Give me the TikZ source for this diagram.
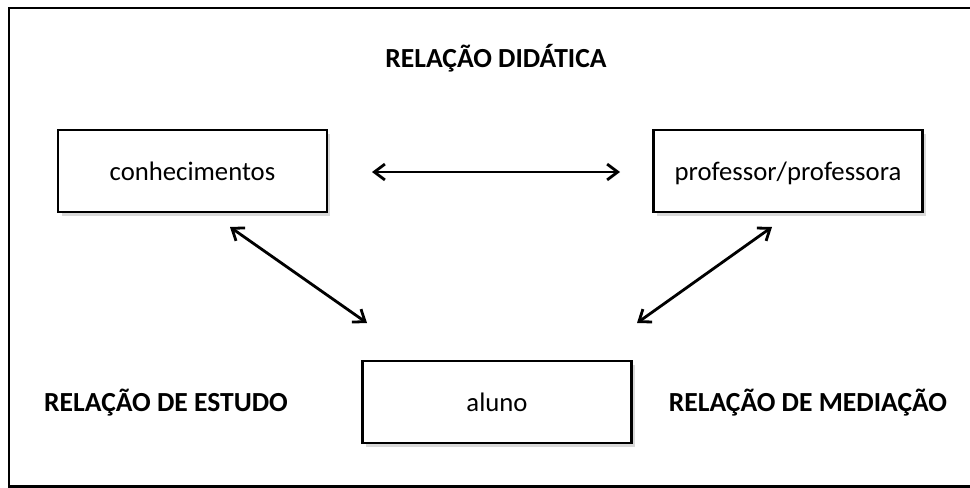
\documentclass[tikz,border=0pt]{standalone}
\usepackage{fontspec}
\setmainfont{Carlito}
\usepackage{tikz}
\usetikzlibrary{arrows.meta, shadows}

\begin{document}
\begin{tikzpicture}[x=0.02cm, y=-0.02cm,
    caixa/.style={draw=black, line width=1.6pt, fill=white, minimum width=5.38cm,
      minimum height=1.64cm, inner sep=0pt, text height=14pt, text depth=3pt,
      font=\fontsize{15.2}{18}\selectfont,
      drop shadow={shadow xshift=2pt, shadow yshift=-2pt, opacity=0.25, fill=black!60}},
    relacao/.style={font=\fontsize{15.7}{18}\selectfont\bfseries},
    seta/.style={{Straight Barb[length=6pt, width=9pt, line width=1.6pt]}-{Straight Barb[length=6pt, width=9pt, line width=1.6pt]}, line width=1.6pt}]
  \useasboundingbox (0,0) rectangle (970,487);

  % Frame (right side runs off the page)
  \draw[line width=1.7pt] (980,8) -- (9,8) -- (9,486) -- (980,486);

  % Boxes
  \node[caixa] (conh) at (192.5,171) {conhecimentos};
  \node[caixa] (prof) at (788,171) {professor/professora};
  \node[caixa] (aluno) at (497,402) {aluno};

  % Relation labels
  \node[relacao] (didatica) at (496,58) {RELAÇÃO DIDÁTICA};
  \node[relacao] (estudo) at (166,403) {RELAÇÃO DE ESTUDO};
  \node[relacao] (mediacao) at (808,403) {RELAÇÃO DE MEDIAÇÃO};

  % Arrow ends
  \coordinate (conhR) at (372,172);
  \coordinate (profL) at (620,172);
  \coordinate (conhB) at (230,227);
  \coordinate (alunoL) at (367,323);
  \coordinate (profB) at (772,227);
  \coordinate (alunoR) at (637,323);

  % Arrows
  \draw[seta] (conhR) -- (profL);
  \draw[seta] (conhB) -- (alunoL);
  \draw[seta] (profB) -- (alunoR);
\end{tikzpicture}
\end{document}
